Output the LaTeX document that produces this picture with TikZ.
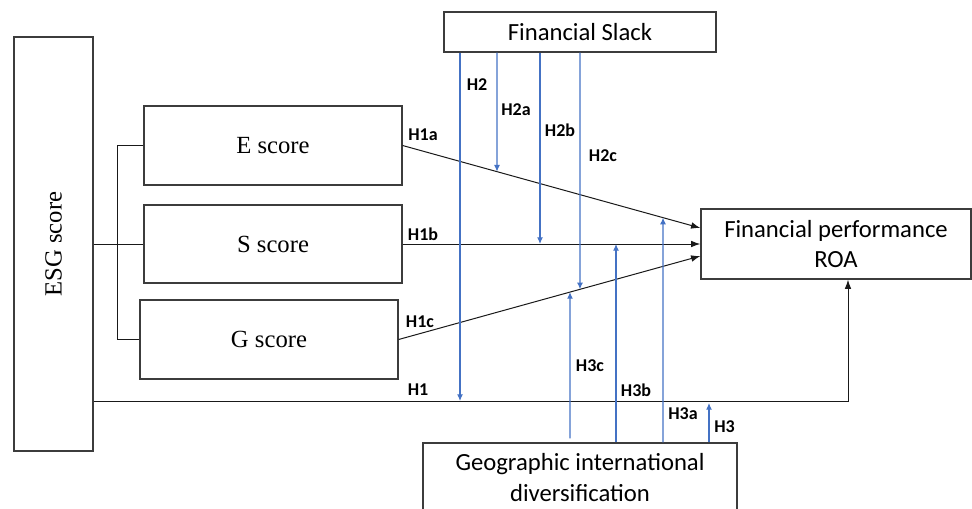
\documentclass[tikz,border=0pt]{standalone}
\usepackage{fontspec}
\setmainfont{Liberation Serif}
\newfontfamily\carl{Carlito}
\usetikzlibrary{arrows.meta,calc}
\definecolor{boxc}{RGB}{60,60,60}
\definecolor{linec}{RGB}{25,25,25}
\definecolor{bluec}{RGB}{68,114,196}
\begin{document}
\begin{tikzpicture}[x=0.75pt,y=-0.75pt,
  box/.style={draw=boxc,line width=0.9pt,inner sep=0pt,align=center},
  serifbox/.style={box,font=\fontsize{18.5}{22}\selectfont},
  sansbox/.style={box,font=\carl\fontsize{18.5}{23}\selectfont},
  lab/.style={font=\carl\bfseries\fontsize{13.5}{16}\selectfont,inner sep=0pt},
  blk/.style={draw=linec,line width=0.75pt},
  arr/.style={blk,-{Latex[length=7pt,width=5pt]}},
  barr/.style={draw=bluec,line width=0.9pt,-{Latex[length=5pt,width=4.5pt]}}]
\useasboundingbox (0,0) rectangle (972,508);
\clip (0,0) rectangle (972,508);
% boxes
\node[serifbox,minimum width=59.25pt,minimum height=310.5pt] (ESG) at (53.5,244) {\rotatebox{90}{ESG score}};
\node[serifbox,minimum width=193.5pt,minimum height=59.25pt] (E) at (273,145.5) {E score};
\node[serifbox,minimum width=193.5pt,minimum height=58.5pt] (S) at (273,244) {S score};
\node[serifbox,minimum width=193.5pt,minimum height=59.25pt] (G) at (269,339.5) {G score};
\node[sansbox,minimum width=204pt,minimum height=30pt] (FS) at (580,32) {Financial Slack};
\node[sansbox,minimum width=202.5pt,minimum height=52.5pt] (FP) at (836,244) {Financial performance\\ROA};
\node[sansbox,minimum width=235.5pt,minimum height=51.75pt] (GEO) at (580,477.5) {Geographic international\\diversification};
% bracket
\draw[blk] (ESG.east) -- (S.west);
\draw[blk] (E.west) -- ++(-26,0) coordinate (bt) |- (G.west);
% H1 path
\coordinate (h1y) at (0,401);
\coordinate (h1s) at (ESG.east |- h1y);
\coordinate (h1e) at ($(FP.south)+(12,0)$);
\draw[arr] (h1s) -| (h1e);
% direct arrows
\coordinate (eS) at (E.east);
\coordinate (gS) at (G.east);
\coordinate (eT) at ($(FP.west)+(0,-16)$);
\coordinate (gT) at ($(FP.west)+(0,12)$);
\draw[arr] (eS) -- (eT);
\draw[arr] (S.east) -- (FP.west);
\draw[arr] (gS) -- (gT);
% Financial slack moderations
\coordinate (t2) at ($(FS.south)+(-120,0)$);
\coordinate (t2a) at ($(FS.south)+(-83,0)$);
\coordinate (t2b) at ($(FS.south)+(-40,0)$);
\coordinate (t2c) at (FS.south);
\coordinate (t2a') at ($(t2a)+(0,100)$);
\coordinate (t2c') at ($(t2c)+(0,100)$);
\draw[barr] (t2) -- (t2 |- h1y);
\draw[barr] (t2a) -- (intersection of t2a--t2a' and eS--eT);
\draw[barr] (t2b) -- (t2b |- S.east);
\draw[barr] (t2c) -- (intersection of t2c--t2c' and gS--gT);
% Geographic moderations
\coordinate (b3c) at ($(GEO.north)+(-10,-4)$);
\coordinate (b3b) at ($(GEO.north)+(36,0)$);
\coordinate (b3a) at ($(GEO.north)+(83,0)$);
\coordinate (b3) at ($(GEO.north)+(129,0)$);
\coordinate (b3c') at ($(b3c)+(0,-100)$);
\coordinate (b3a') at ($(b3a)+(0,-100)$);
\draw[barr] (b3c) -- (intersection of b3c--b3c' and gS--gT);
\draw[barr] (b3b) -- (b3b |- S.east);
\draw[barr] (b3a) -- (intersection of b3a--b3a' and eS--eT);
\draw[barr] (b3) -- ($(b3 |- h1y)+(0,2)$);
% labels
\node[lab] (lH2) at (477,85) {H2};
\node[lab] (lH2a) at (516,110) {H2a};
\node[lab] (lH2b) at (560,130) {H2b};
\node[lab] (lH2c) at (603,156) {H2c};
\node[lab] (lH1a) at (423,135) {H1a};
\node[lab] (lH1b) at (423,234) {H1b};
\node[lab] (lH1c) at (420,322) {H1c};
\node[lab] (lH1) at (418,390) {H1};
\node[lab] (lH3c) at (590,366) {H3c};
\node[lab] (lH3b) at (636,390) {H3b};
\node[lab] (lH3a) at (683,414) {H3a};
\node[lab] (lH3) at (724.5,427) {H3};
\end{tikzpicture}
\end{document}
